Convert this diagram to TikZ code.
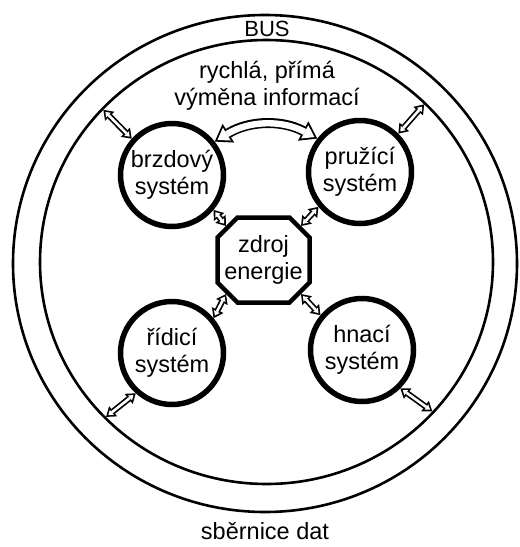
\documentclass[tikz,border=0pt]{standalone}
\usepackage{fontspec}
\setmainfont{Liberation Sans}
\usetikzlibrary{arrows.meta,shapes.geometric}

\begin{document}
\begin{tikzpicture}[x=1pt, y=-1pt,
  every node/.style={font=\fontsize{23.5}{27}\selectfont, align=center},
  track/.style={ellipse, draw, line width=2.6pt, inner sep=0pt},
  sys/.style={circle, draw, line width=5.5pt, minimum size=103pt, inner sep=-6pt},
  hollow/.style={line width=6pt,
    {Triangle[length=9pt,width=13pt,line width=0pt]}-{Triangle[length=9pt,width=13pt,line width=0pt]},
    postaction={draw=white, line width=2.6pt, shorten <=2.9pt, shorten >=2.9pt,
      {Triangle[length=4.4pt,width=6.4pt,line width=0pt]}-{Triangle[length=4.4pt,width=6.4pt,line width=0pt]}}},
  bighollow/.style={line width=10pt,
    {Triangle[length=16pt,width=22pt,line width=0pt]}-{Triangle[length=16pt,width=22pt,line width=0pt]},
    postaction={draw=white, line width=6.4pt, shorten <=3.2pt, shorten >=3.2pt,
      {Triangle[length=11pt,width=15pt,line width=0pt]}-{Triangle[length=11pt,width=15pt,line width=0pt]}}}]
  \useasboundingbox (0,0) rectangle (520,547);

  % datova sbernice
  \node[track, minimum width=504pt, minimum height=497pt] (bus) at (265,263.5) {};
  \node[track, minimum width=453pt, minimum height=444pt, outer sep=-1.3pt] (inner) at (266.5,262) {};
  \node[font=\fontsize{22}{24}\selectfont] (buslabel) at (267,29) {BUS};
  \node (info) at (267,86) {rychlá, přímá\\výměna informací};
  \node (dat) at (265,531) {sběrnice dat};

  % systemy
  \node[sys] (brz) at (172,175) {brzdový\\systém};
  \node[sys] (pru) at (360,172) {pružící\\systém};
  \node[sys] (rid) at (172,353) {řídicí\\systém};
  \node[sys] (hna) at (362,350) {hnací\\systém};

  % zdroj energie
  \node (zdr) at (263.5,260) {zdroj\\energie};
  \draw[line width=4.5pt, shift={(263.5,260)}] (-26,-42.5) -- (26,-42.5) -- (46,-22.5)
    -- (46,22.5) -- (26,42.5) -- (-26,42.5) -- (-46,22.5) -- (-46,-22.5) -- cycle;
  \coordinate (zdrnw) at (226,226);
  \coordinate (zdrne) at (301,226);
  \coordinate (zdrsw) at (226,294);
  \coordinate (zdrse) at (301,294);

  \draw[bighollow] (brz.38) to[bend left=30] (pru.142);
  \draw[hollow] (zdrnw) -- (brz.-40);
  \draw[hollow] (zdrne) -- (pru.220);
  \draw[hollow] (zdrsw) -- (rid.40);
  \draw[hollow] (zdrse) -- (hna.140);

  \draw[hollow] (brz.138) -- (inner.137);
  \draw[hollow] (pru.45) -- (inner.45);
  \draw[hollow] (rid.228) -- (inner.224);
  \draw[hollow] (hna.315) -- (inner.318);
\end{tikzpicture}
\end{document}
